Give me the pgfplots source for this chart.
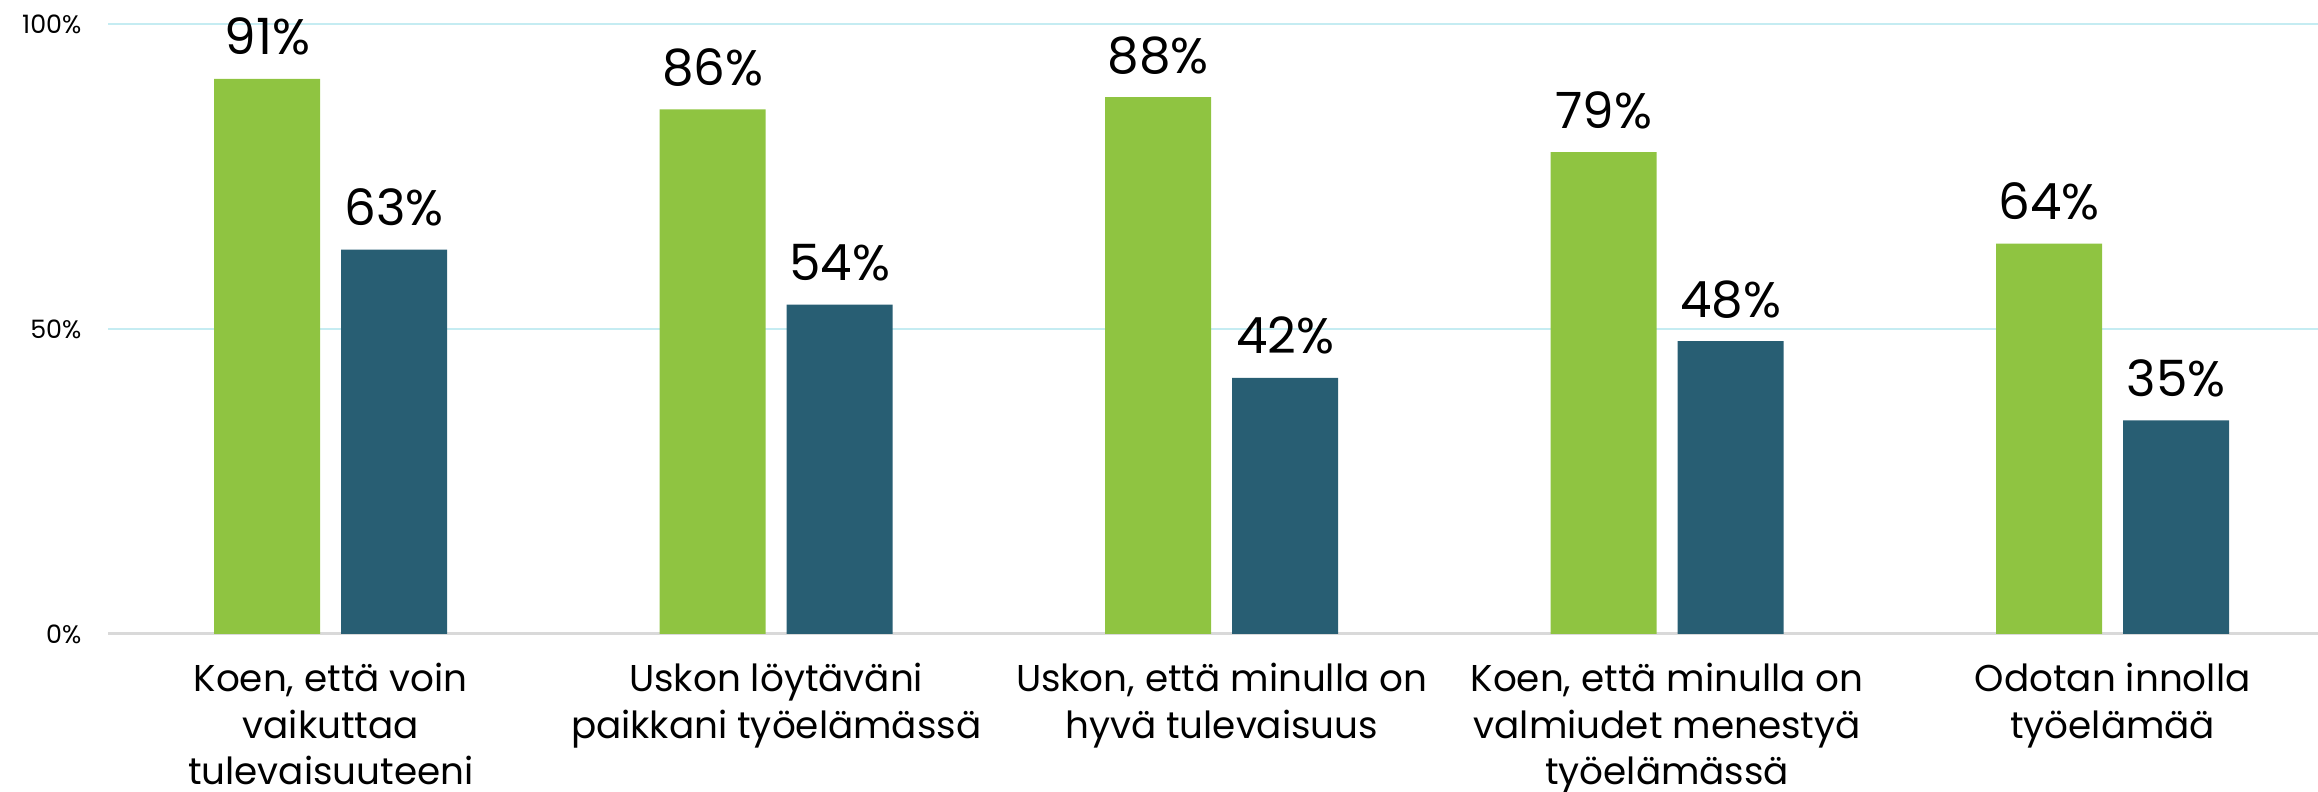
\documentclass[border=0pt]{standalone}
\usepackage{fontspec}
\setmainfont{Poppins}
\usepackage{pgfplots}
\pgfplotsset{compat=1.18}
\definecolor{barG}{RGB}{143,196,65}
\definecolor{barB}{RGB}{40,94,115}
\definecolor{gridC}{RGB}{197,236,242}
\definecolor{axisgrey}{RGB}{217,217,217}
\begin{document}
\begin{tikzpicture}
\useasboundingbox (-32.4pt,-47.4pt) rectangle (663pt,190.2pt);
\begin{axis}[
  at={(0,0)}, anchor=south west,
  scale only axis, width=663pt, height=190.2pt,
  xmin=-0.5, xmax=4.461, ymin=0, ymax=103.93,
  axis lines=left,
  x axis line style={draw=axisgrey, line width=0.9pt, -},
  y axis line style={draw=none},
  major tick length=0pt,
  ymajorgrids, grid style={draw=gridC, line width=0.6pt},
  ytick={0,50,100},
  yticklabel={\pgfmathprintnumber{\tick}\%},
  /pgf/number format/assume math mode=true,
  yticklabel style={font=\fontsize{7.6}{9}\selectfont, anchor=east, inner sep=0pt, xshift=-7.8pt},
  xtick={0,1,2,3,4},
  xticklabels={{Koen, että voin\\vaikuttaa\\tulevaisuuteeni},
               {Uskon löytäväni\\paikkani työelämässä},
               {Uskon, että minulla on\\hyvä tulevaisuus},
               {Koen, että minulla on\\valmiudet menestyä\\työelämässä},
               {Odotan innolla\\työelämää}},
  xticklabel style={align=center, font=\fontsize{11.2}{13.9}\selectfont, anchor=north, inner sep=0pt, yshift=-8.6pt},
  ybar, bar width=31.8pt,
  nodes near coords={\pgfmathprintnumber{\pgfplotspointmeta}\%},
  point meta=y,
  nodes near coords style={font=\fontsize{15}{17}\selectfont, anchor=base, inner sep=0pt, yshift=7.2pt, text=black},
  clip=false,
]
\addplot[fill=barG, draw=none, bar shift=-19.05pt] coordinates {(0,91) (1,86) (2,88) (3,79) (4,64)};
\addplot[fill=barB, draw=none, bar shift=19.05pt] coordinates {(0,63) (1,54) (2,42) (3,48) (4,35)};
\end{axis}
\end{tikzpicture}
\end{document}
